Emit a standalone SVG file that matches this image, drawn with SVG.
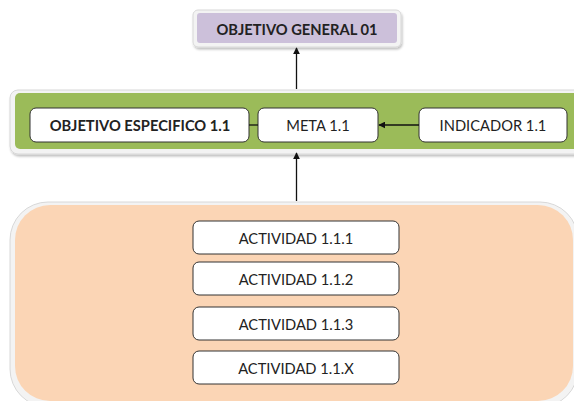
<svg xmlns="http://www.w3.org/2000/svg" width="574" height="401" viewBox="0 0 574 401">
<defs>
<style>
.t{font-family:Lato,"Liberation Sans",sans-serif;font-size:14.7px;fill:#222;text-anchor:middle;dominant-baseline:central}
.b{font-weight:bold}
.box{fill:#fff;stroke:#333;stroke-width:1}
.frame{fill:#f3f3f3;stroke:#d8d8d8;stroke-width:1}
.ln{stroke:#111;stroke-width:1.3;fill:none}
</style>
<marker id="ah" viewBox="0 0 10 10" refX="9" refY="5" markerWidth="7" markerHeight="7" orient="auto-start-reverse" markerUnits="userSpaceOnUse">
<path d="M0,0 L10,5 L0,10 z" fill="#111"/>
</marker>
<filter id="sh" x="-5%" y="-20%" width="110%" height="140%">
<feDropShadow dx="1" dy="2" stdDeviation="1.2" flood-color="#000" flood-opacity="0.25"/>
</filter>
</defs>
<rect width="574" height="401" fill="#fff"/>

<g id="objetivo-general">
<rect x="193" y="10" width="208" height="37" rx="5" class="frame" filter="url(#sh)"/>
<rect x="197" y="13" width="200" height="30" rx="3" fill="#ccc0da"/>
<text x="297" y="29" class="t b">OBJETIVO GENERAL 01</text>
</g>

<g id="grupo-especifico">
<rect x="10" y="90" width="580" height="64" rx="8" class="frame" filter="url(#sh)"/>
<rect x="15" y="93" width="575" height="56" rx="5" fill="#9bbb59"/>
</g>

<g id="objetivo-especifico">
<rect x="30" y="108" width="219" height="34" rx="6" class="box"/>
<text x="140" y="125" class="t b">OBJETIVO ESPECIFICO 1.1</text>
</g>
<g id="meta">
<rect x="258" y="108" width="120" height="34" rx="6" class="box"/>
<text x="318" y="125" class="t">META 1.1</text>
</g>
<g id="indicador">
<rect x="419" y="108" width="148" height="34" rx="6" class="box"/>
<text x="493" y="125" class="t">INDICADOR 1.1</text>
</g>

<g id="grupo-actividades">
<rect x="10" y="202" width="568" height="205" rx="38" class="frame"/>
<rect x="15" y="205" width="558" height="196" rx="35" fill="#fbd5b5"/>
</g>

<g id="actividad-1">
<rect x="193" y="221" width="206" height="33" rx="6" class="box"/>
<text x="296" y="238" class="t">ACTIVIDAD 1.1.1</text>
</g>
<g id="actividad-2">
<rect x="193" y="262" width="206" height="33" rx="6" class="box"/>
<text x="296" y="279" class="t">ACTIVIDAD 1.1.2</text>
</g>
<g id="actividad-3">
<rect x="193" y="307" width="206" height="33" rx="6" class="box"/>
<text x="296" y="324" class="t">ACTIVIDAD 1.1.3</text>
</g>
<g id="actividad-x">
<rect x="193" y="351" width="206" height="33" rx="6" class="box"/>
<text x="296" y="368" class="t">ACTIVIDAD 1.1.X</text>
</g>

<g id="connectors">
<line x1="296.5" y1="89" x2="296.5" y2="48" class="ln" marker-end="url(#ah)"/>
<line x1="296.5" y1="201" x2="296.5" y2="153" class="ln" marker-end="url(#ah)"/>
<line x1="419" y1="125" x2="379" y2="125" class="ln" marker-end="url(#ah)"/>
<line x1="249" y1="125" x2="258" y2="125" class="ln"/>
</g>
</svg>
